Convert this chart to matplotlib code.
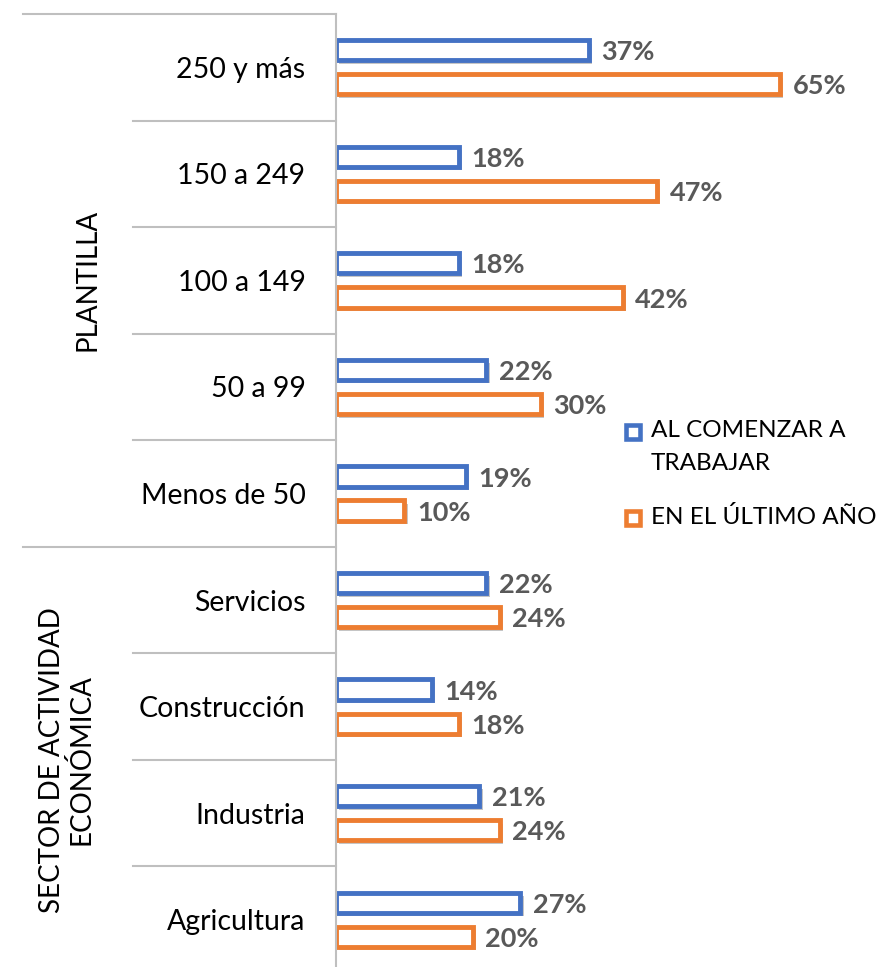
import matplotlib.pyplot as plt
from matplotlib.patches import Rectangle
import matplotlib.patheffects as pe
import matplotlib.transforms as mtransforms

categorias = ['250 y más', '150 a 249', '100 a 149', '50 a 99', 'Menos de 50',
              'Servicios', 'Construcción', 'Industria', 'Agricultura']
al_comenzar = [37, 18, 18, 22, 19, 22, 14, 21, 27]
ultimo_ano = [65, 47, 42, 30, 10, 24, 18, 24, 20]
grupos = ['PLANTILLA', 'SECTOR DE ACTIVIDAD\nECONÓMICA']
grupo_rangos = [(0, 5), (5, 9)]
series = ['AL COMENZAR A\nTRABAJAR', 'EN EL ÚLTIMO AÑO']

AZUL = '#4472C4'
NARANJA = '#ED7D31'
GRIS = '#595959'
LINEA = '#BFBFBF'

plt.rcParams['font.family'] = ['Lato', 'DejaVu Sans']

W, H = 885, 967
fig = plt.figure(figsize=(W / 100, H / 100), dpi=100)
x0 = 336
ax = fig.add_axes([x0 / W, (967 - 973) / H, (W - x0) / W, (973 - 14) / H])

y = list(range(len(categorias)))
sombra = [pe.SimplePatchShadow(offset=(2.5, -2.5), shadow_rgbFace='#7F7F7F', alpha=0.45),
          pe.Normal()]
desp = 0.16
alto = 0.19
for vals, d, col in [(al_comenzar, -desp, AZUL), (ultimo_ano, desp, NARANJA)]:
    pos = [v + d for v in y]
    bars = ax.barh(pos, vals, height=alto, facecolor='white', edgecolor=col, linewidth=3.5)
    for b in bars:
        b.set_path_effects(sombra)
    for p, v in zip(pos, vals):
        ax.annotate(f'{v}%', (v, p), xytext=(9, -1.5), textcoords='offset points',
                    va='center', ha='left', fontsize=19.5, fontweight='bold', color=GRIS)

ax.set_xlim(0, (W - x0) / 6.83)
ax.set_ylim(len(categorias) - 0.5, -0.5)
ax.set_yticks(y)
ax.set_yticklabels(categorias, fontsize=20.5)
ax.tick_params(axis='y', length=0, pad=22)
ax.set_xticks([])
for s in ['top', 'right', 'bottom']:
    ax.spines[s].set_visible(False)
ax.spines['left'].set_color(LINEA)
ax.spines['left'].set_linewidth(1.5)

# separadores a la izquierda del eje
tr = mtransforms.blended_transform_factory(ax.transAxes, ax.transData)
ax_w = (W - x0)
x_cat = (133 - x0) / ax_w
x_grp = (23 - x0) / ax_w
limites = [i - 0.5 for i in range(len(categorias) + 1)]
inicios_grupo = [r[0] - 0.5 for r in grupo_rangos] + [len(categorias) - 0.5]
for yy in limites:
    xs = x_grp if yy in inicios_grupo else x_cat
    ax.plot([xs, 0], [yy, yy], transform=tr, color=LINEA, lw=1.5, clip_on=False)

centros_x = [88, 67]
for g, (a, b), cx in zip(grupos, grupo_rangos, centros_x):
    ax.text((cx - x0) / ax_w, (a + b - 1) / 2, g, transform=tr, rotation=90,
            ha='center', va='center', fontsize=20, multialignment='center',
            linespacing=1.1)

# leyenda
for txt, col, ty in zip(series, [AZUL, NARANJA], [432, 518]):
    fig.add_artist(Rectangle((626 / W, (H - ty - 7) / H), 14 / W, 14 / H,
                             transform=fig.transFigure, facecolor='white',
                             edgecolor=col, linewidth=3.3))
    fig.text(651 / W, (H - ty + 12) / H, txt, ha='left', va='top', fontsize=17.5,
             linespacing=1.7)

fig.savefig('out.png', dpi=100)
